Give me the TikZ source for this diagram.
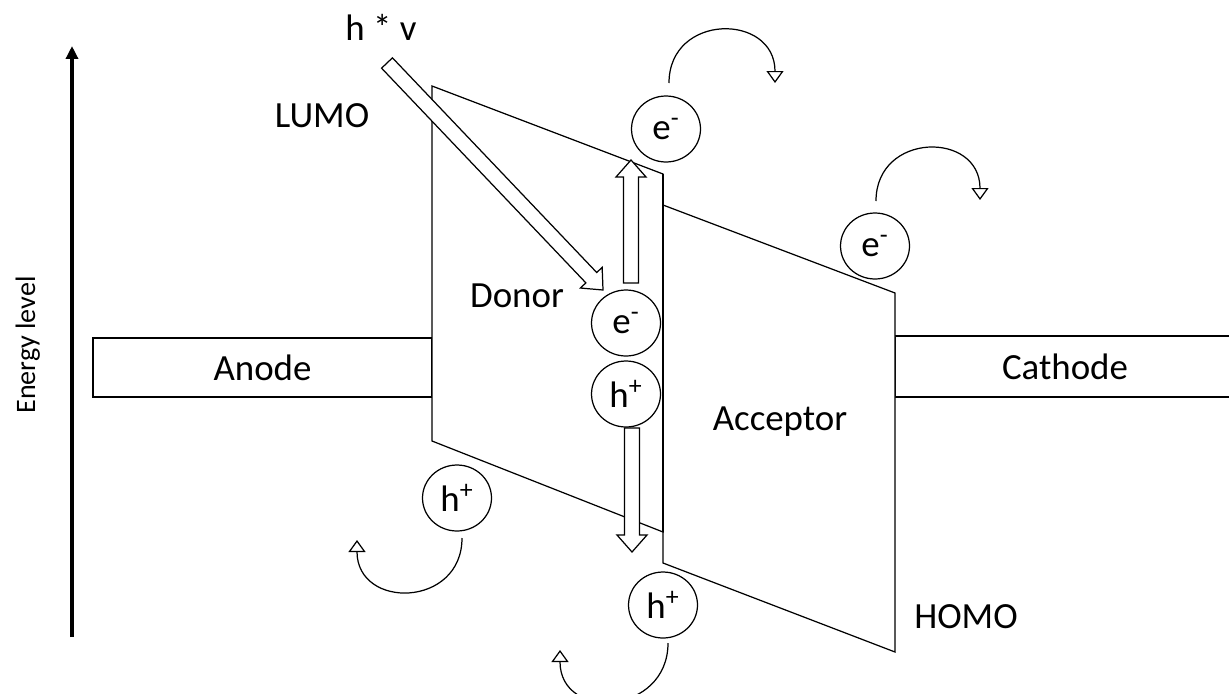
\documentclass[tikz,border=0pt]{standalone}
\usepackage{fontspec}
\setmainfont{Carlito}
\usepackage{tikz}
\usetikzlibrary{arrows.meta, calc, shapes.geometric}

% open block arrow from #1 (tail) to #2 (tip)
\newcommand{\hollowarrow}[2]{%
  \coordinate (hh) at ($(#2)!0.34cm!(#1)$);
  \draw[fill=white, line width=0.7pt]
    ($(#1)!0.15cm!90:(#2)$) -- ($(hh)!0.15cm!90:(#2)$) -- ($(hh)!0.3cm!90:(#2)$)
    -- (#2) -- ($(hh)!0.3cm!-90:(#2)$) -- ($(hh)!0.15cm!-90:(#2)$)
    -- ($(#1)!0.15cm!-90:(#2)$) -- cycle;}

\begin{document}
\begin{tikzpicture}[x=0.02cm, y=0.02cm, font=\fontsize{21}{25}\selectfont,
  el/.style={rectangle, draw, line width=0.7pt, inner sep=0pt},
  cr/.style={ellipse, draw, line width=0.7pt, fill=white, inner sep=0pt,
             minimum width=1.38cm, minimum height=1.32cm},
  lb/.style={anchor=base, inner sep=0pt},
  cv/.style={line width=0.7pt, -{Triangle[open, length=0.24cm, width=0.34cm]},
             looseness=1.7},
  ax/.style={line width=2pt, -{Triangle[length=0.26cm, width=0.24cm]}}]
\useasboundingbox (0,0) rectangle (1229,-693);

% energy axis
\coordinate (axlo) at (72,-637);
\coordinate (axhi) at (72,-46);
\draw[ax] (axlo) -- (axhi);
\node[lb, rotate=90, font=\fontsize{16}{19}\selectfont] (elvl) at (35,-345) {Energy level};

% electrodes
\node[el, minimum width=6.78cm, minimum height=1.18cm] (anode) at (262.5,-367.5) {Anode};
\node[el, minimum width=6.8cm, minimum height=1.22cm] (cathode) at (1065,-366.5) {Cathode};

% donor and acceptor levels
\coordinate (d1) at (432,-86);  \coordinate (d2) at (663,-174);
\coordinate (d3) at (663,-532); \coordinate (d4) at (432,-441);
\coordinate (a1) at (663,-205); \coordinate (a2) at (895,-293);
\coordinate (a3) at (895,-652); \coordinate (a4) at (663,-563);
\draw[line width=0.7pt, fill=white] (a1) -- (a2) -- (a3) -- (a4) -- cycle;
\draw[line width=0.7pt, fill=white] (d1) -- (d2) -- (d3) -- (d4) -- cycle;
\draw[line width=1.6pt] (d2) -- (d3);

\node[lb] (donor) at (517,-307) {Donor};
\node[lb] (acceptor) at (780,-430) {Acceptor};
\node[lb] (lumo) at (322,-127) {LUMO};
\node[lb] (homo) at (966,-628) {HOMO};
\node[lb] (hv) at (381,-40) {h * v};

% block arrows
\coordinate (pht) at (387,-63);  \coordinate (phh) at (603,-290);
\coordinate (upt) at (631,-283); \coordinate (uph) at (631,-160);
\coordinate (dnt) at (632,-428); \coordinate (dnh) at (632,-552);
\hollowarrow{pht}{phh}
\hollowarrow{upt}{uph}
\hollowarrow{dnt}{dnh}

% charge carriers
\node[cr] (etop) at (666,-129) {e\textsuperscript{-}};
\node[cr] (eacc) at (875,-246) {e\textsuperscript{-}};
\node[cr] (edon) at (626,-323) {e\textsuperscript{-}};
\node[cr] (hdon) at (626,-394) {h\textsuperscript{+}};
\node[cr] (hleft) at (457,-498) {h\textsuperscript{+}};
\node[cr] (hbot) at (663,-605) {h\textsuperscript{+}};

% hops
\coordinate (c1s) at (669,-83);  \coordinate (c1e) at (775,-83);
\coordinate (c2s) at (876,-201); \coordinate (c2e) at (980,-200);
\coordinate (c3s) at (462,-538); \coordinate (c3e) at (357,-540);
\coordinate (c4s) at (668,-643); \coordinate (c4e) at (560,-650);
\draw[cv] (c1s) to[out=90, in=90] (c1e);
\draw[cv] (c2s) to[out=90, in=90] (c2e);
\draw[cv] (c3s) to[out=-90, in=-90] (c3e);
\draw[cv] (c4s) to[out=-90, in=-90] (c4e);
\end{tikzpicture}
\end{document}
